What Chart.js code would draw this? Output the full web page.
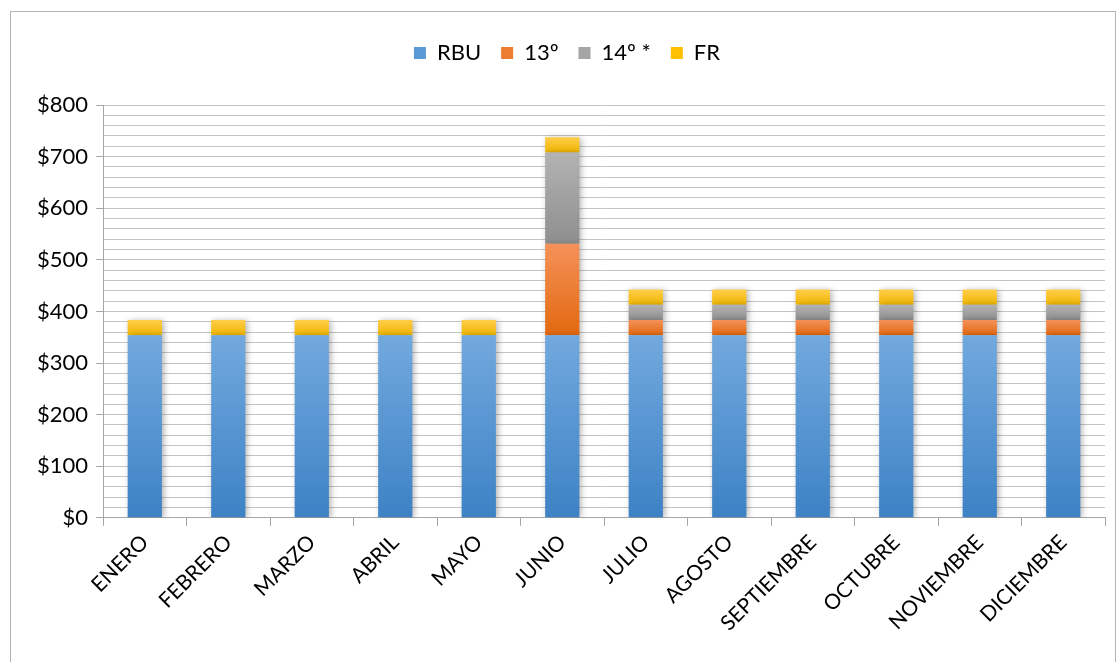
<!DOCTYPE html>
<html>
<head>
<meta charset="utf-8">
<script src="https://cdn.jsdelivr.net/npm/chart.js@4/dist/chart.umd.min.js"></script>
<style>
    html, body { margin: 0; padding: 0; background: #fff; }
    #wrap { position: relative; width: 1120px; height: 662px; overflow: hidden; }
    #frame { position: absolute; left: 10px; top: 11px; width: 1106px; height: 700px; border: 1px solid #b4b4b4; box-sizing: border-box; }
    #bar-chart { position: absolute; left: 0; top: 0; }
</style>
</head>
<body>
<div id="wrap">
    <div id="frame"></div>
    <canvas id="bar-chart" width="1120" height="662"></canvas>
</div>
<script>
const categories = ['ENERO', 'FEBRERO', 'MARZO', 'ABRIL', 'MAYO', 'JUNIO', 'JULIO', 'AGOSTO', 'SEPTIEMBRE', 'OCTUBRE', 'NOVIEMBRE', 'DICIEMBRE'];
const rbu = [354, 354, 354, 354, 354, 354, 354, 354, 354, 354, 354, 354];
const decimoTercero = [0, 0, 0, 0, 0, 177, 29.5, 29.5, 29.5, 29.5, 29.5, 29.5];
const decimoCuarto = [0, 0, 0, 0, 0, 177, 29.5, 29.5, 29.5, 29.5, 29.5, 29.5];
const fondoReserva = [29.5, 29.5, 29.5, 29.5, 29.5, 29.5, 29.5, 29.5, 29.5, 29.5, 29.5, 29.5];

const series = [
    { label: 'RBU', data: rbu, top: '#72a9de', bottom: '#3d82c5', legend: '#5b9bd5' },
    { label: '13º', data: decimoTercero, top: '#f5925a', bottom: '#e2680f', legend: '#ed7d31' },
    { label: '14º *', data: decimoCuarto, top: '#b3b3b3', bottom: '#8e8e8e', legend: '#a5a5a5' },
    { label: 'FR', data: fondoReserva, top: '#ffcd4a', bottom: '#efb600', legend: '#ffc000' },
];

// gradient per segment, top lighter, bottom darker
function segmentFill(dsIdx) {
    return (context) => {
        const chart = context.chart;
        const s = series[dsIdx];
        if (!chart.chartArea || context.type !== 'data') return s.legend;
        const i = context.dataIndex;
        let start = 0;
        for (let k = 0; k < dsIdx; k++) start += series[k].data[i];
        const end = start + s.data[i];
        if (end === start) return s.legend;
        const y = chart.scales.y;
        const g = chart.ctx.createLinearGradient(0, y.getPixelForValue(end), 0, y.getPixelForValue(start));
        g.addColorStop(0, s.top);
        g.addColorStop(1, s.bottom);
        return g;
    };
}

const shadowPlugin = {
    id: 'barShadow',
    beforeDatasetsDraw(chart) {
        const ctx = chart.ctx;
        ctx.save();
        ctx.shadowColor = 'rgba(0,0,0,0.30)';
        ctx.shadowBlur = 6;
        ctx.shadowOffsetX = 2;
        ctx.shadowOffsetY = 1;
    },
    afterDatasetsDraw(chart) {
        chart.ctx.restore();
    }
};

// more room under the legend
const legendGap = {
    id: 'legendGap',
    beforeInit(chart) {
        const fit = chart.legend.fit;
        chart.legend.fit = function() {
            fit.bind(chart.legend)();
            this.height += 31;
        };
    }
};

Chart.defaults.font.family = "Lato, 'Open Sans', sans-serif";
Chart.defaults.color = '#000';

new Chart(document.getElementById('bar-chart'), {
    type: 'bar',
    data: {
        labels: categories,
        datasets: series.map((s, idx) => ({
            label: s.label,
            data: s.data,
            backgroundColor: segmentFill(idx),
            borderWidth: 0,
            barPercentage: 0.41,
            categoryPercentage: 1
        }))
    },
    plugins: [shadowPlugin, legendGap],
    options: {
        responsive: false,
        animation: false,
        devicePixelRatio: 1,
        layout: { padding: { top: 22, right: 15, left: 29, bottom: 22 } },
        plugins: {
            legend: {
                position: 'top',
                labels: {
                    font: { size: 22 },
                    color: '#000',
                    boxWidth: 12,
                    boxHeight: 12,
                    padding: 20,
                    generateLabels: (chart) => series.map((s, i) => ({
                        text: s.label,
                        fillStyle: s.legend,
                        strokeStyle: s.legend,
                        lineWidth: 0,
                        datasetIndex: i,
                        hidden: false
                    }))
                }
            },
            tooltip: { enabled: false }
        },
        scales: {
            y: {
                stacked: true,
                min: 0,
                max: 800,
                ticks: {
                    stepSize: 20,
                    autoSkip: false,
                    font: { size: 22 },
                    color: '#000',
                    padding: 8,
                    callback: (value) => value % 100 === 0 ? '$' + value : ''
                },
                grid: {
                    color: '#c4c4c4',
                    lineWidth: 1,
                    tickLength: 7,
                    tickColor: (ctx) => ctx.tick && ctx.tick.value % 100 === 0 ? '#a6a6a6' : 'rgba(0,0,0,0)'
                },
                border: { color: '#a6a6a6', width: 1 }
            },
            x: {
                stacked: true,
                ticks: {
                    font: { size: 21 },
                    color: '#000',
                    minRotation: 45,
                    maxRotation: 45,
                    padding: 4
                },
                grid: {
                    drawOnChartArea: false,
                    offset: true,
                    tickLength: 8,
                    color: '#a6a6a6'
                },
                border: { color: '#a6a6a6', width: 1 }
            }
        }
    }
});
</script>
</body>
</html>
